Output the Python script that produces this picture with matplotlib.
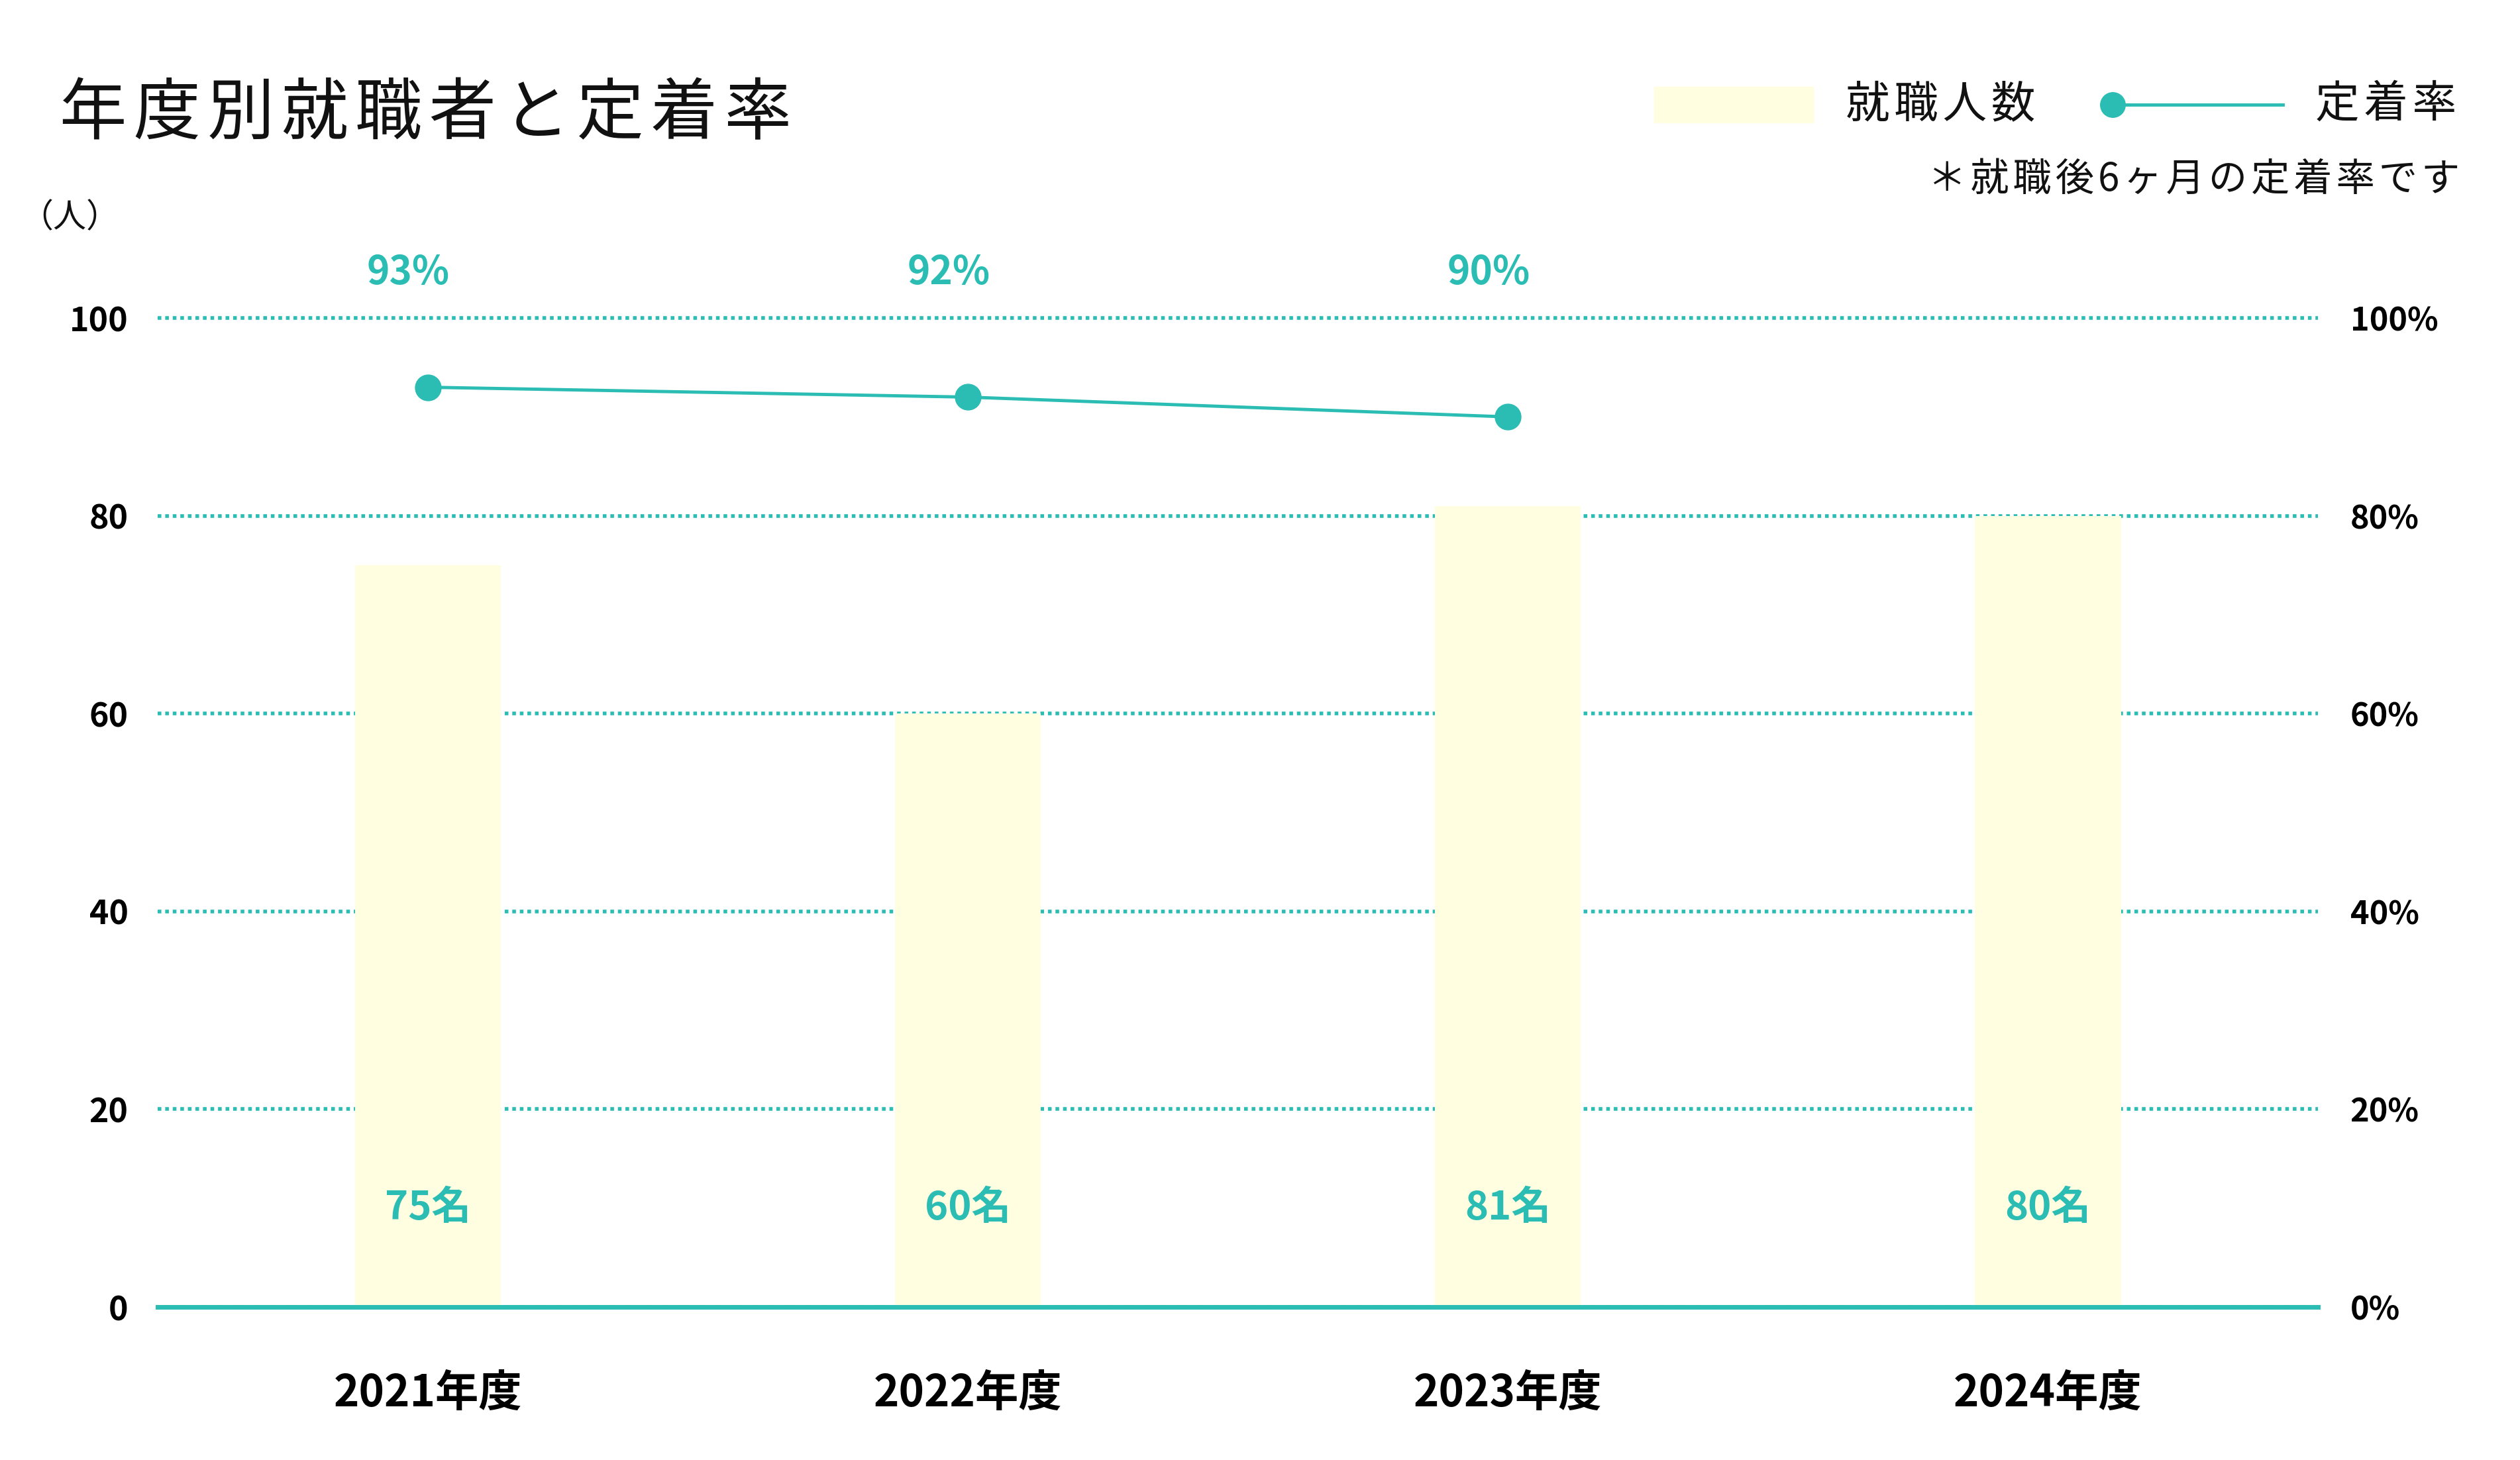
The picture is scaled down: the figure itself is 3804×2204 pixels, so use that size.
import matplotlib.pyplot as plt
from matplotlib.lines import Line2D
from matplotlib.patches import Rectangle

# data
years = ['2021年度', '2022年度', '2023年度', '2024年度']
hires = [75, 60, 81, 80]
hire_labels = ['75名', '60名', '81名', '80名']
retention = [93, 92, 90]
pct_labels = ['93%', '92%', '90%']
y_ticks = [0, 20, 40, 60, 80, 100]
y2_labels = ['0%', '20%', '40%', '60%', '80%', '100%']

TEAL = '#2bbdb4'
BAR = '#fffee0'
plt.rcParams['font.family'] = ['Noto Sans CJK JP', 'DejaVu Sans']


def spaced(s):
    # a little letter spacing, like the original
    return '\u200a'.join(s)


fig = plt.figure(figsize=(38.05, 22.04), dpi=100)
ax = fig.add_axes([0.0626, 0.1048, 0.857, 0.6774])

x = list(range(len(years)))
ax.bar(x, hires, width=0.27, color=BAR, zorder=2)
ax.set_xlim(-0.5, 3.5)
ax.set_ylim(0, 100)
ax.set_yticks(y_ticks)
ax.set_axisbelow(True)
ax.yaxis.grid(True, color=TEAL, linestyle=(0, (1, 1.05)), linewidth=4)
for gl in ax.get_ygridlines():
    gl.set_clip_on(False)
ax.axhline(0, color=TEAL, linewidth=5, zorder=3, clip_on=False)
ax.set_xticks(x, years)
ax.tick_params(axis='x', length=0, pad=70, labelsize=47)
ax.tick_params(axis='y', length=0, pad=32, labelsize=36)
for lab in ax.get_xticklabels() + ax.get_yticklabels():
    lab.set_fontweight('bold')
for s in ax.spines.values():
    s.set_visible(False)

for i, lab in enumerate(hire_labels):
    ax.text(i, 10, lab, ha='center', va='center', color=TEAL,
            fontsize=43, fontweight='bold', zorder=4)

# retention rate on the right axis
ax2 = ax.twinx()
ax2.set_ylim(0, 100)
ax2.set_yticks(y_ticks, y2_labels)
ax2.tick_params(axis='y', length=0, pad=35, labelsize=35)
for lab in ax2.get_yticklabels():
    lab.set_fontweight('bold')
for s in ax2.spines.values():
    s.set_visible(False)
ax2.plot(range(len(retention)), retention, color=TEAL, linewidth=3.5,
         marker='o', markersize=28, clip_on=False)
for i, lab in enumerate(pct_labels):
    ax2.annotate(lab, (i, 100), xytext=(-21, 49), textcoords='offset points',
                 ha='center', va='center', color=TEAL, fontsize=42,
                 fontweight='bold', annotation_clip=False)

# title and unit
fig.text(0.0237, 0.9215, spaced('年度別就職者と定着率'), fontsize=73,
         va='center', ha='left', color='#111111')
fig.text(0.008, 0.8505, '（人）', fontsize=36, va='center', ha='left',
         color='#111111')

# hand-made legend
ly = 0.9283
fig.add_artist(Rectangle((2497 / 3805, ly - 27 / 2204), 240 / 3805, 54 / 2204,
                         transform=fig.transFigure, color=BAR))
fig.text(2786 / 3805, ly, spaced('就職人数'), fontsize=48, va='center',
         ha='left', color='#111111')
fig.add_artist(Line2D([3189 / 3805, 3446 / 3805], [ly, ly],
                      transform=fig.transFigure, color=TEAL, linewidth=3.5))
fig.add_artist(Line2D([3189 / 3805], [ly], transform=fig.transFigure,
                      color=TEAL, marker='o', markersize=27))
fig.text(3708 / 3805, ly, spaced('定着率'), fontsize=48, va='center',
         ha='right', color='#111111')
fig.text(0.9758, 0.877, spaced('＊就職後6ヶ月の定着率です'), fontsize=42,
         va='center', ha='right', color='#111111')

fig.savefig('out.png', dpi=100, facecolor='white')
